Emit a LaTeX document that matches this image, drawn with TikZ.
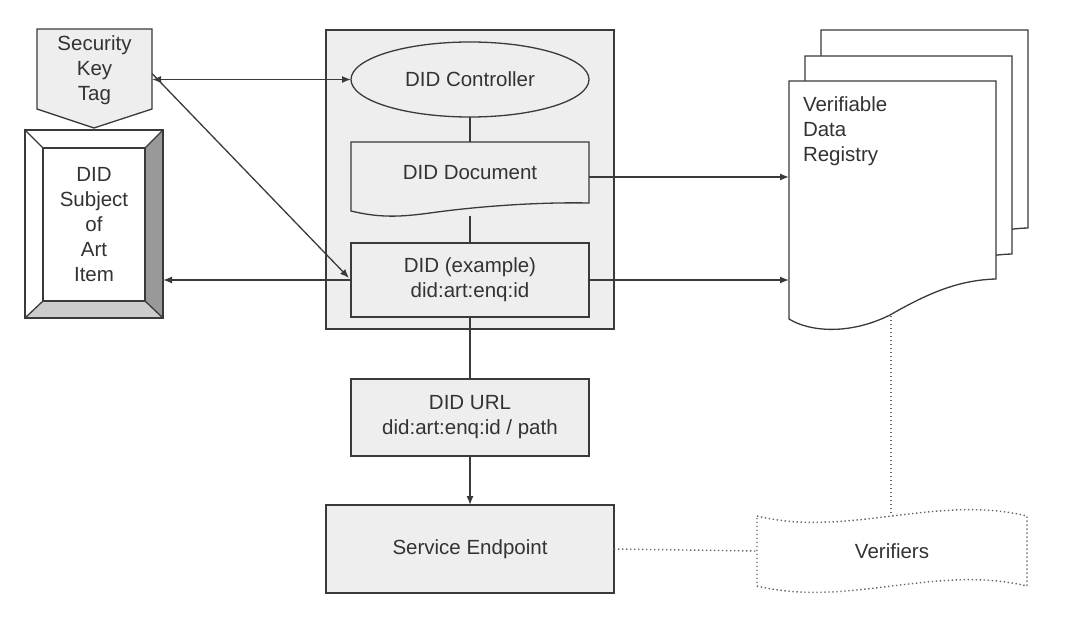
\documentclass[tikz,border=0pt]{standalone}
\usepackage{fontspec}
\setmainfont{Liberation Sans}
\usetikzlibrary{arrows.meta,shapes.geometric}
\definecolor{boxgray}{HTML}{EEEEEE}
\definecolor{edge}{HTML}{3A3A3A}
\definecolor{txt}{HTML}{333333}
\definecolor{darkbevel}{HTML}{999999}
\definecolor{lightbevel}{HTML}{CCCCCC}
\definecolor{dotgray}{HTML}{666666}
\tikzset{
  every node/.style={font=\fontsize{20.5}{25}\selectfont, text=txt, inner sep=0pt, outer sep=0pt},
  shapeline/.style={draw=edge, line width=1.3pt, line join=miter},
  gbox/.style={shapeline, fill=boxgray, rectangle, align=center},
  ghost/.style={rectangle, draw=none, align=center},
  conn/.style={draw=edge, line width=1.3pt},
  arr/.style={conn, -{Latex[length=9pt,width=7pt]}},
  biarr/.style={conn, {Latex[length=9pt,width=7pt]}-{Latex[length=9pt,width=7pt]}},
  dotline/.style={draw=dotgray, line width=1.4pt, dash pattern=on 1.4pt off 2.6pt},
}
\begin{document}
\begin{tikzpicture}[x=1pt,y=-1pt]
\useasboundingbox (0,0) rectangle (1066,623);

% container
\node[gbox, minimum width=288pt, minimum height=299pt] (cont) at (470,179.5) {};

% DID Controller
\node[shapeline, fill=boxgray, ellipse, minimum width=238pt, minimum height=75pt] (ctrl) at (470,79.5) {DID Controller};

% DID Document (document shape)
\node[ghost, minimum width=238pt, minimum height=74pt] (doc) at (470,179) {};
\draw[shapeline, fill=boxgray] (351,142) -- (589,142) -- (589,203)
  .. controls (540,202) and (480,206) .. (430,213)
  .. controls (400,217) and (380,218) .. (351,211) -- cycle;
\node (doctext) at (470,173) {DID Document};

% DID (example)
\node[gbox, minimum width=238pt, minimum height=74pt] (ex) at (470,280) {DID (example)\\did:art:enq:id};

% DID URL
\node[gbox, minimum width=238pt, minimum height=77pt] (url) at (470,417.5) {DID URL\\did:art:enq:id / path};

% Service Endpoint
\node[gbox, minimum width=288pt, minimum height=88pt] (svc) at (470,549) {Service Endpoint};

% Security Key Tag (pentagon)
\draw[shapeline, fill=boxgray] (37,29) -- (152,29) -- (152,109) -- (94,128) -- (37,109) -- cycle;
\node[ghost, minimum width=115pt, minimum height=80pt] (tag) at (94.5,70) {Security\\Key\\Tag};

% DID Subject (bevel)
\fill[white] (25,130) rectangle (163,318);
\fill[darkbevel] (163,130) -- (163,318) -- (145,301) -- (145,148) -- cycle;
\fill[lightbevel] (25,318) -- (163,318) -- (145,301) -- (43,301) -- cycle;
\draw[shapeline] (25,130) rectangle (163,318);
\draw[shapeline] (43,148) rectangle (145,301);
\draw[shapeline] (25,130) -- (43,148) (163,130) -- (145,148) (25,318) -- (43,301) (163,318) -- (145,301);
\node[ghost, minimum width=138pt, minimum height=188pt] (subj) at (94,224.5) {DID\\Subject\\of\\Art\\Item};

% Verifiable Data Registry (multi-document)
\foreach \dx/\dy in {32/-51, 16/-25} {
  \begin{scope}[shift={(\dx,\dy)}]
    \draw[shapeline, fill=white] (789,81) -- (996,81) -- (996,279)
      .. controls (960,280) and (930,292) .. (890,315)
      .. controls (850,335) and (810,332) .. (789,319) -- cycle;
  \end{scope}
}
\draw[shapeline, fill=white] (789,81) -- (996,81) -- (996,279)
  .. controls (960,280) and (930,292) .. (890,315)
  .. controls (850,335) and (810,332) .. (789,319) -- cycle;
\node[ghost, minimum width=207pt, minimum height=249pt] (vdr) at (892.5,205.5) {};
\node[anchor=north west, align=left] (vdrtext) at (803,97) {Verifiable\\Data\\Registry};
\coordinate (vdrb) at (891,316);

% Verifiers (tape shape)
\draw[dotline] (757,516) .. controls (847,538) and (937,494) .. (1027,516)
  -- (1027,586) .. controls (937,564) and (847,608) .. (757,586) -- cycle;
\node[ghost, minimum width=270pt, minimum height=70pt] (ver) at (892,551) {Verifiers};

% connectors
\draw[conn] (ctrl.south) -- (doc.north);
\draw[conn] (doc.south) -- (ex.north);
\draw[conn] (ex.south) -- (url.north);
\draw[arr] (url.south) -- (svc.north);
\draw[biarr] (tag.east |- ctrl.west) -- (ctrl.west);
\draw[arr] ([yshift=6pt]tag.east |- ctrl.west) -- ([xshift=-2pt,yshift=2pt]ex.west);
\draw[arr] (ex.west) -- (ex.west -| subj.east);
\draw[arr] ([yshift=2pt]doc.east) -- ([yshift=2pt]doc.east -| vdr.west);
\draw[arr] (ex.east) -- (ex.east -| vdr.west);
\draw[dotline] (svc.east) -- (ver.west);
\draw[dotline] (vdrb) -- (vdrb |- ver.north);
\end{tikzpicture}
\end{document}
